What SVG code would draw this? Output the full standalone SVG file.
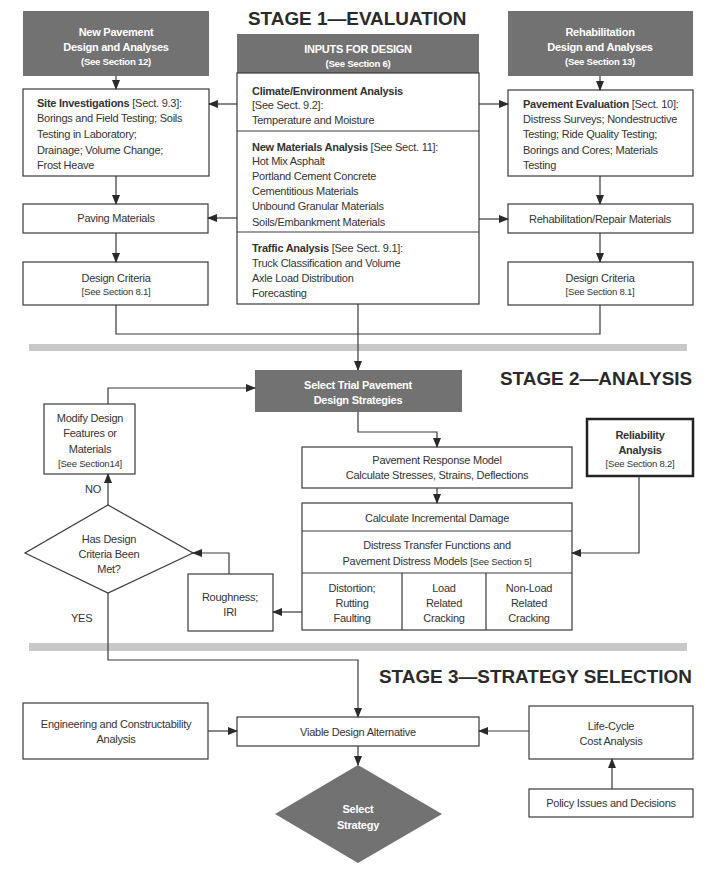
<svg xmlns="http://www.w3.org/2000/svg" width="721" height="871" viewBox="0 0 721 871">
<defs>
<style>
.bx{fill:#fff;stroke:#3a3a3a;stroke-width:1.2}
.gr{fill:#727272;stroke:none}
.t{font-family:"Liberation Sans",Arial,sans-serif;font-size:11px;letter-spacing:-0.25px;fill:#333}
.c{text-anchor:middle}
.s{font-size:9.6px}
.b{font-weight:bold}
.w{fill:#fff;font-weight:bold}
.h{font-family:"Liberation Sans",Arial,sans-serif;font-weight:bold;font-size:18.9px;fill:#2a2a2a}
.ln{fill:none;stroke:#3a3a3a;stroke-width:1.2}
.band{fill:#c8c8c8}
</style>
<marker id="ar" markerWidth="10" markerHeight="8" refX="9" refY="4" orient="auto" markerUnits="userSpaceOnUse">
<path d="M0,0 L10,4 L0,8 Z" fill="#2a2a2a"/>
</marker>
</defs>
<rect width="721" height="871" fill="#fff"/>

<rect class="band" x="29" y="344" width="658" height="7"/>
<rect class="band" x="29" y="643" width="658" height="8"/>

<text class="h" x="248" y="25">STAGE 1—EVALUATION</text>
<text class="h" x="500" y="385">STAGE 2—ANALYSIS</text>
<text class="h" x="379" y="683">STAGE 3—STRATEGY SELECTION</text>

<g id="new-pavement">
<rect class="gr" x="23" y="11" width="186" height="65"/>
<text class="t w c" x="116" y="36">New Pavement</text>
<text class="t w c" x="116" y="51">Design and Analyses</text>
<text class="t w c s" x="116" y="65">(See Section 12)</text>
</g>
<g id="site-investigations">
<rect class="bx" x="23" y="89" width="186" height="87"/>
<text class="t" x="37" y="107"><tspan class="b">Site Investigations</tspan> [Sect. 9.3]:</text>
<text class="t" x="37" y="122">Borings and Field Testing; Soils</text>
<text class="t" x="37" y="138">Testing in Laboratory;</text>
<text class="t" x="37" y="154">Drainage; Volume Change;</text>
<text class="t" x="37" y="169">Frost Heave</text>
</g>
<g id="paving-materials">
<rect class="bx" x="23" y="204" width="185" height="29"/>
<text class="t c" x="116" y="222">Paving Materials</text>
</g>
<g id="design-criteria-left">
<rect class="bx" x="23" y="262" width="185" height="43"/>
<text class="t c" x="116" y="282">Design Criteria</text>
<text class="t c s" x="116" y="295">[See Section 8.1]</text>
</g>

<g id="inputs">
<rect class="gr" x="237" y="34" width="242" height="39"/>
<text class="t w c" x="358" y="53">INPUTS FOR DESIGN</text>
<text class="t w c s" x="358" y="67">(See Section 6)</text>
<rect class="bx" x="237" y="73" width="242" height="231"/>
<line class="ln" x1="237" y1="131" x2="479" y2="131"/>
<line class="ln" x1="237" y1="232" x2="479" y2="232"/>
<text class="t b" x="252" y="95">Climate/Environment Analysis</text>
<text class="t" x="252" y="109">[See Sect. 9.2]:</text>
<text class="t" x="252" y="124">Temperature and Moisture</text>
<text class="t" x="252" y="151"><tspan class="b">New Materials Analysis</tspan> [See Sect. 11]:</text>
<text class="t" x="252" y="165">Hot Mix Asphalt</text>
<text class="t" x="252" y="180">Portland Cement Concrete</text>
<text class="t" x="252" y="195">Cementitious Materials</text>
<text class="t" x="252" y="210">Unbound Granular Materials</text>
<text class="t" x="252" y="226">Soils/Embankment Materials</text>
<text class="t" x="252" y="252"><tspan class="b">Traffic Analysis</tspan> [See Sect. 9.1]:</text>
<text class="t" x="252" y="267">Truck Classification and Volume</text>
<text class="t" x="252" y="282">Axle Load Distribution</text>
<text class="t" x="252" y="297">Forecasting</text>
</g>

<g id="rehabilitation">
<rect class="gr" x="508" y="11" width="185" height="65"/>
<text class="t w c" x="600" y="36">Rehabilitation</text>
<text class="t w c" x="600" y="51">Design and Analyses</text>
<text class="t w c s" x="600" y="65">(See Section 13)</text>
</g>
<g id="pavement-evaluation">
<rect class="bx" x="508" y="90" width="185" height="86"/>
<text class="t" x="523" y="108"><tspan class="b">Pavement Evaluation</tspan> [Sect. 10]:</text>
<text class="t" x="523" y="123">Distress Surveys; Nondestructive</text>
<text class="t" x="523" y="138">Testing; Ride Quality Testing;</text>
<text class="t" x="523" y="154">Borings and Cores; Materials</text>
<text class="t" x="523" y="169">Testing</text>
</g>
<g id="rehab-materials">
<rect class="bx" x="508" y="204" width="185" height="29"/>
<text class="t c" x="600" y="223">Rehabilitation/Repair Materials</text>
</g>
<g id="design-criteria-right">
<rect class="bx" x="508" y="262" width="185" height="43"/>
<text class="t c" x="600" y="282">Design Criteria</text>
<text class="t c s" x="600" y="295">[See Section 8.1]</text>
</g>

<g id="select-trial">
<rect class="gr" x="255" y="370" width="207" height="42"/>
<text class="t w c" x="358" y="389">Select Trial Pavement</text>
<text class="t w c" x="358" y="404">Design Strategies</text>
</g>
<g id="modify-design">
<rect class="bx" x="44" y="404" width="91" height="70"/>
<text class="t c" x="90" y="422">Modify Design</text>
<text class="t c" x="90" y="437">Features or</text>
<text class="t c" x="90" y="453">Materials</text>
<text class="t c s" x="90" y="467">[See Section14]</text>
</g>
<g id="criteria-met">
<polygon class="bx" points="108,505 193,553 108,593 25,553"/>
<text class="t c" x="109" y="543">Has Design</text>
<text class="t c" x="109" y="558">Criteria Been</text>
<text class="t c" x="109" y="573">Met?</text>
</g>
<g id="roughness">
<rect class="bx" x="188" y="574" width="85" height="57"/>
<text class="t c" x="230" y="601">Roughness;</text>
<text class="t c" x="230" y="616">IRI</text>
</g>
<g id="response-model">
<rect class="bx" x="302" y="447" width="270" height="41"/>
<text class="t c" x="437" y="464">Pavement Response Model</text>
<text class="t c" x="437" y="479">Calculate Stresses, Strains, Deflections</text>
</g>
<g id="damage-models">
<rect class="bx" x="302" y="503" width="270" height="127"/>
<line class="ln" x1="302" y1="531" x2="572" y2="531"/>
<line class="ln" x1="302" y1="573" x2="572" y2="573"/>
<line class="ln" x1="402" y1="573" x2="402" y2="630"/>
<line class="ln" x1="486" y1="573" x2="486" y2="630"/>
<text class="t c" x="437" y="522">Calculate Incremental Damage</text>
<text class="t c" x="437" y="549">Distress Transfer Functions and</text>
<text class="t c" x="437" y="565">Pavement Distress Models <tspan class="s">[See Section 5]</tspan></text>
<text class="t c" x="352" y="592">Distortion;</text>
<text class="t c" x="352" y="607">Rutting</text>
<text class="t c" x="352" y="622">Faulting</text>
<text class="t c" x="444" y="592">Load</text>
<text class="t c" x="444" y="607">Related</text>
<text class="t c" x="444" y="622">Cracking</text>
<text class="t c" x="529" y="592">Non-Load</text>
<text class="t c" x="529" y="607">Related</text>
<text class="t c" x="529" y="622">Cracking</text>
</g>
<g id="reliability">
<rect x="587" y="419" width="106" height="57" fill="#fff" stroke="#222" stroke-width="2.5"/>
<text class="t c b" x="640" y="439">Reliability</text>
<text class="t c b" x="640" y="454">Analysis</text>
<text class="t c s" x="640" y="467">[See Section 8.2]</text>
</g>

<g id="engineering">
<rect class="bx" x="23" y="703" width="185" height="56"/>
<text class="t c" x="116" y="728">Engineering and Constructability</text>
<text class="t c" x="116" y="743">Analysis</text>
</g>
<g id="viable">
<rect class="bx" x="237" y="717" width="242" height="29"/>
<text class="t c" x="358" y="736">Viable Design Alternative</text>
</g>
<g id="life-cycle">
<rect class="bx" x="529" y="706" width="164" height="53"/>
<text class="t c" x="611" y="730">Life-Cycle</text>
<text class="t c" x="611" y="745">Cost Analysis</text>
</g>
<g id="policy">
<rect class="bx" x="529" y="789" width="164" height="28"/>
<text class="t c" x="611" y="807">Policy Issues and Decisions</text>
</g>
<g id="select-strategy">
<polygon class="gr" points="358,765 442,814 358,863 275,814"/>
<text class="t w c" x="358" y="813">Select</text>
<text class="t w c" x="358" y="829">Strategy</text>
</g>

<g id="connectors">
<line class="ln" x1="116" y1="76" x2="116" y2="89" marker-end="url(#ar)"/>
<line class="ln" x1="116" y1="176" x2="116" y2="204" marker-end="url(#ar)"/>
<line class="ln" x1="116" y1="233" x2="116" y2="262" marker-end="url(#ar)"/>
<line class="ln" x1="600" y1="76" x2="600" y2="90" marker-end="url(#ar)"/>
<line class="ln" x1="600" y1="176" x2="600" y2="204" marker-end="url(#ar)"/>
<line class="ln" x1="600" y1="233" x2="600" y2="262" marker-end="url(#ar)"/>
<line class="ln" x1="237" y1="104" x2="209" y2="104" marker-end="url(#ar)"/>
<line class="ln" x1="237" y1="218" x2="208" y2="218" marker-end="url(#ar)"/>
<line class="ln" x1="479" y1="104" x2="508" y2="104" marker-end="url(#ar)"/>
<line class="ln" x1="479" y1="219" x2="508" y2="219" marker-end="url(#ar)"/>
<polyline class="ln" points="116,305 116,334 358,334"/>
<polyline class="ln" points="600,305 600,334 358,334"/>
<line class="ln" x1="358" y1="304" x2="358" y2="370" marker-end="url(#ar)"/>
<polyline class="ln" points="108,404 108,388 255,388" marker-end="url(#ar)"/>
<polyline class="ln" points="358,412 358,432 437,432 437,447" marker-end="url(#ar)"/>
<line class="ln" x1="437" y1="488" x2="437" y2="503" marker-end="url(#ar)"/>
<polyline class="ln" points="639,476 639,553 572,553" marker-end="url(#ar)"/>
<line class="ln" x1="302" y1="612" x2="273" y2="612" marker-end="url(#ar)"/>
<polyline class="ln" points="229,574 229,553 193,553" marker-end="url(#ar)"/>
<line class="ln" x1="108" y1="505" x2="108" y2="474" marker-end="url(#ar)"/>
<text class="t" x="85" y="493">NO</text>
<polyline class="ln" points="108,593 108,660 358,660 358,717" marker-end="url(#ar)"/>
<text class="t" x="71" y="622">YES</text>
<line class="ln" x1="208" y1="731" x2="237" y2="731" marker-end="url(#ar)"/>
<line class="ln" x1="529" y1="731" x2="479" y2="731" marker-end="url(#ar)"/>
<line class="ln" x1="612" y1="789" x2="612" y2="759" marker-end="url(#ar)"/>
<line class="ln" x1="358" y1="746" x2="358" y2="765" marker-end="url(#ar)"/>
</g>
</svg>
